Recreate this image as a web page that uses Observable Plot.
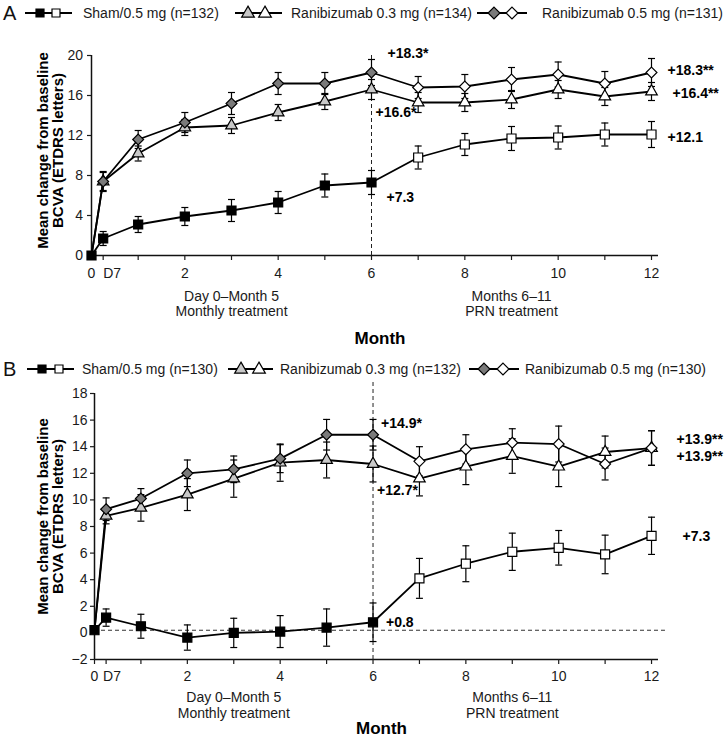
<!DOCTYPE html>
<html>
<head>
<meta charset="utf-8">
<script src="https://cdn.jsdelivr.net/npm/d3@7"></script>
<script src="https://cdn.jsdelivr.net/npm/@observablehq/plot@0.6"></script>
<style>
  body { margin: 0; background: #fff; font-family: "Liberation Sans", Arial, sans-serif; }
  #page { position: relative; width: 724px; height: 740px; overflow: hidden; background: #fff; }
  .abs { position: absolute; left: 0; }
  svg { overflow: visible; }
</style>
</head>
<body>
<div id="page"></div>
<script>
// ---------------- DATA ----------------
const months = [0, 0.25, 1, 2, 3, 4, 5, 6, 7, 8, 9, 10, 11, 12];
const xTickValues = [0, 0.25, 1, 2, 3, 4, 5, 6, 7, 8, 9, 10, 11, 12];
const xTickLabels = ["0", "", "", "2", "", "4", "", "6", "", "8", "", "10", "", "12"];
const d7Label = "D7";
const phaseCenters = [3, 9];
const phaseLabels = ["Day 0–Month 5\nMonthly treatment", "Months 6–11\nPRN treatment"];
const xTitle = "Month";
const yTitle = "Mean change from baseline\nBCVA (ETDRS letters)";

const legendLabelsA = ["Sham/0.5 mg (n=132)", "Ranibizumab 0.3 mg (n=134)", "Ranibizumab 0.5 mg (n=131)"];
const legendLabelsB = ["Sham/0.5 mg (n=130)", "Ranibizumab 0.3 mg (n=132)", "Ranibizumab 0.5 mg (n=130)"];

// Panel A
const shamA    = [0, 1.7, 3.1, 3.9, 4.5, 5.3, 7.0, 7.3, 9.8, 11.1, 11.7, 11.8, 12.1, 12.1];
const shamAErr = [0, 0.7, 0.8, 0.9, 1.1, 1.1, 1.15, 1.2, 1.15, 1.1, 1.2, 1.15, 1.15, 1.3];
const r03A     = [0, 7.4, 10.2, 12.8, 13.0, 14.3, 15.4, 16.6, 15.3, 15.3, 15.6, 16.6, 15.9, 16.4];
const r03AErr  = [0, 0.9, 0.75, 0.8, 0.8, 0.8, 0.8, 1.0, 1.0, 0.9, 0.9, 0.9, 0.9, 0.9];
const r05A     = [0, 7.4, 11.6, 13.3, 15.2, 17.2, 17.2, 18.3, 16.8, 16.9, 17.6, 18.1, 17.2, 18.3];
const r05AErr  = [0, 1.0, 0.9, 1.0, 1.1, 1.1, 1.1, 1.3, 1.1, 1.2, 1.2, 1.25, 1.2, 1.4];
const yTicksA = [0, 4, 8, 12, 16, 20];
const annotTextA = ["+18.3*", "+16.6*", "+7.3", "+18.3**", "+16.4**", "+12.1"];
const annotMonthA = [6, 6, 6, 12, 12, 12];
const annotSeriesA = ["r05", "r03", "sham", "r05", "r03", "sham"];

// Panel B
const shamB    = [0.2, 1.15, 0.5, -0.35, 0.0, 0.1, 0.4, 0.8, 4.1, 5.2, 6.1, 6.4, 5.9, 7.3];
const shamBErr = [0, 0.65, 0.9, 0.95, 1.1, 1.2, 1.4, 1.45, 1.5, 1.35, 1.4, 1.3, 1.45, 1.4];
const r03B     = [0.2, 8.8, 9.4, 10.4, 11.6, 12.8, 13.0, 12.7, 11.6, 12.5, 13.3, 12.5, 13.6, 13.9];
const r03BErr  = [0, 0.6, 1.0, 1.2, 1.4, 1.4, 1.35, 1.35, 1.3, 1.35, 1.3, 1.5, 1.2, 1.3];
const r05B     = [0.2, 9.3, 10.1, 12.0, 12.3, 13.1, 14.9, 14.9, 12.9, 13.8, 14.3, 14.2, 12.7, 13.9];
const r05BErr  = [0, 0.85, 0.75, 1.0, 1.0, 1.05, 1.15, 1.15, 1.1, 1.1, 1.05, 1.35, 1.2, 1.3];
const yTicksB = [-2, 0, 2, 4, 6, 8, 10, 12, 14, 16, 18];
const baselineB = 0.2;
const annotTextB = ["+14.9*", "+12.7*", "+0.8", "+13.9**", "+13.9**", "+7.3"];
const annotMonthB = [6, 6, 6, 12, 12, 12];
const annotSeriesB = ["r05", "r03", "sham", "r05", "r03", "sham"];

// ---------------- STYLE / LAYOUT ----------------
const FONT = '"Liberation Sans", Arial, sans-serif';
const seriesStyle = {
  sham: { symbol: "square",   r: 5.1, fill: "#000000" },
  r03:  { symbol: "triangle", r: 4.3, fill: "#c8c8c8" },
  r05:  { symbol: "diamond2", r: 4.9, fill: "#7a7a7a" }
};
const annotOffsetA = [[16, -19], [4, 23], [15, 15], [16, -2], [21, 2], [16, 3]];
const annotOffsetB = [[8, -11], [4, 27], [13, 0], [25, -9], [25, 8], [31, 1]];

function rows(vals, errs, s) {
  return months.map((m, i) => ({ m, v: vals[i], e: errs[i], s }));
}

function makePanel(cfg) {
  const data = [
    ...rows(cfg.sham, cfg.shamErr, "sham"),
    ...rows(cfg.r03, cfg.r03Err, "r03"),
    ...rows(cfg.r05, cfg.r05Err, "r05")
  ];
  const errData = data.filter(d => d.e > 0);
  const lookup = { sham: cfg.sham, r03: cfg.r03, r05: cfg.r05 };
  const [y0, y1] = cfg.yDomain;

  const dotMarks = ["sham", "r03", "r05"].map(s => {
    const st = seriesStyle[s];
    return Plot.dot(data.filter(d => d.s === s && (s === "sham" || d.m > 0)), {
      x: "m", y: "v", symbol: st.symbol, r: st.r,
      fill: d => (d.m > 6 ? "#ffffff" : st.fill),
      stroke: "#000", strokeWidth: 1.2
    });
  });

  const annotMarks = cfg.annotText.map((t, i) => {
    const m = cfg.annotMonth[i];
    const s = cfg.annotSeries[i];
    const v = lookup[s][months.indexOf(m)];
    return Plot.text([{ m, v, t }], {
      x: "m", y: "v", text: "t", textAnchor: "start",
      dx: cfg.annotOffset[i][0], dy: cfg.annotOffset[i][1],
      fontWeight: "bold", fontSize: 14, fill: "#000"
    });
  });

  const extra = cfg.baseline != null ? [
    Plot.ruleY([cfg.baseline], { x1: 0, x2: 12.3, stroke: "#333", strokeWidth: 1.1, strokeDasharray: "4,3" })
  ] : [];

  return Plot.plot({
    width: 724,
    height: cfg.height,
    marginLeft: cfg.marginLeft,
    marginRight: 66,
    marginTop: cfg.marginTop,
    marginBottom: cfg.marginBottom,
    style: { fontFamily: FONT, fontSize: "14px", color: "#1a1a1a", background: "#fff", overflow: "visible" },
    x: { domain: [0, 12.15] },
    y: { domain: cfg.yDomain },
    color: { type: "identity" },
    marks: [
      ...extra,
      Plot.ruleX([6], { y1: y0, y2: cfg.dashTop, stroke: "#222", strokeWidth: 1, strokeDasharray: "4,3" }),
      Plot.ruleX([0], { y1: y0, y2: y1, stroke: "#111", strokeWidth: 1.5 }),
      Plot.ruleY([y0], { x1: 0, x2: 12.15, stroke: "#111", strokeWidth: 1.5 }),
      Plot.axisY(cfg.yTicks, { tickSize: 4, tickPadding: cfg.yPad, label: null, fontSize: 14, strokeWidth: 1.2 }),
      Plot.axisX(xTickValues, {
        tickSize: 5, tickPadding: cfg.xPad, label: null, fontSize: 14, strokeWidth: 1.2,
        tickFormat: d => xTickLabels[xTickValues.indexOf(d)]
      }),
      Plot.text([d7Label], {
        x: xTickValues[1], text: d => d, frameAnchor: "bottom", lineAnchor: "top",
        textAnchor: "start", dx: cfg.d7dx, dy: 5 + cfg.xPad, fontSize: 14, fill: "#1a1a1a"
      }),
      Plot.text(phaseCenters.map((m, i) => ({ m, t: phaseLabels[i] })), {
        x: "m", text: "t", frameAnchor: "bottom", lineAnchor: "middle",
        dy: cfg.phaseDy, lineHeight: 1.1, fontSize: 14, fill: "#1a1a1a"
      }),
      Plot.text([xTitle], {
        text: d => d, frameAnchor: "bottom", lineAnchor: "middle",
        dx: 5, dy: cfg.titleDy, fontSize: 17, fontWeight: "bold", fill: "#000"
      }),
      Plot.text([yTitle], {
        text: d => d, frameAnchor: "left", rotate: -90, lineAnchor: "middle", textAnchor: "middle",
        dx: 50.5 - cfg.marginLeft, dy: cfg.yTitleDy, lineHeight: 1.0,
        fontSize: 15, fontWeight: "bold", fill: "#000"
      }),
      Plot.line(data, { x: "m", y: "v", z: "s", stroke: "#000", strokeWidth: 1.8 }),
      Plot.ruleX(errData, { x: "m", y1: d => d.v - d.e, y2: d => d.v + d.e, stroke: "#000", strokeWidth: 1.2 }),
      Plot.link(errData, { x1: d => d.m - 0.075, x2: d => d.m + 0.075, y1: d => d.v + d.e, y2: d => d.v + d.e, stroke: "#000", strokeWidth: 1.2 }),
      Plot.link(errData, { x1: d => d.m - 0.075, x2: d => d.m + 0.075, y1: d => d.v - d.e, y2: d => d.v - d.e, stroke: "#000", strokeWidth: 1.2 }),
      ...dotMarks,
      ...annotMarks
    ]
  });
}

function makeLegend(letter, labels, lay) {
  const svg = d3.create("svg").attr("width", 724).attr("height", lay.h)
    .style("font-family", FONT);
  svg.append("text").attr("x", 3).attr("y", lay.cy).attr("dy", "0.36em")
    .attr("font-size", 20).attr("fill", "#111").text(letter);
  const kinds = ["sham", "r03", "r05"];
  const symSize = { sham: 64, r03: 70, r05: 90 };
  lay.items.forEach((it, i) => {
    const k = kinds[i];
    const st = seriesStyle[k];
    svg.append("line").attr("x1", it.x0).attr("x2", it.x1).attr("y1", lay.cy).attr("y2", lay.cy)
      .attr("stroke", "#000").attr("stroke-width", 1.8);
    const sym = { square: d3.symbolSquare, triangle: d3.symbolTriangle, diamond2: d3.symbolDiamond2 }[st.symbol];
    const path = d3.symbol(sym, symSize[k])();
    const yoff = k === "r03" ? 0.5 : 0;
    [[it.c1, st.fill], [it.c2, "#fff"]].forEach(([cx, f]) => {
      svg.append("path").attr("d", path).attr("transform", `translate(${cx},${lay.cy + yoff})`)
        .attr("fill", f).attr("stroke", "#000").attr("stroke-width", 1.2);
    });
    svg.append("text").attr("x", it.tx).attr("y", lay.cy).attr("dy", "0.35em")
      .attr("font-size", 14).attr("fill", "#1a1a1a").text(labels[i]);
  });
  return svg.node();
}

const page = document.getElementById("page");
function place(node, top) {
  const wrap = document.createElement("div");
  wrap.className = "abs";
  wrap.style.top = top + "px";
  wrap.appendChild(node);
  page.appendChild(wrap);
}

place(makeLegend("A", legendLabelsA, {
  h: 30, cy: 13,
  items: [
    { x0: 25, x1: 72, c1: 40, c2: 56, tx: 83 },
    { x0: 235, x1: 282, c1: 248, c2: 265, tx: 291 },
    { x0: 477, x1: 527, c1: 494, c2: 512, tx: 542 }
  ]
}), 0);

place(makePanel({
  sham: shamA, shamErr: shamAErr, r03: r03A, r03Err: r03AErr, r05: r05A, r05Err: r05AErr,
  yDomain: [0, 20], yTicks: yTicksA, dashTop: 20,
  height: 320, marginTop: 25, marginBottom: 95, marginLeft: 91,
  yPad: 4.5, xPad: 8, d7dx: 0, phaseDy: 48, titleDy: 83, yTitleDy: -5,
  annotText: annotTextA, annotMonth: annotMonthA, annotSeries: annotSeriesA, annotOffset: annotOffsetA,
  baseline: null
}), 30);

place(makeLegend("B", legendLabelsB, {
  h: 23, cy: 14,
  items: [
    { x0: 27, x1: 74, c1: 42, c2: 59, tx: 82 },
    { x0: 228, x1: 273, c1: 241, c2: 259, tx: 280 },
    { x0: 469, x1: 519, c1: 484, c2: 503, tx: 525 }
  ]
}), 355);

place(makePanel({
  sham: shamB, shamErr: shamBErr, r03: r03B, r03Err: r03BErr, r05: r05B, r05Err: r05BErr,
  yDomain: [-2, 18], yTicks: yTicksB, dashTop: 19,
  height: 362, marginTop: 15, marginBottom: 81, marginLeft: 94,
  yPad: 3, xPad: 7, d7dx: -3, phaseDy: 45.5, titleDy: 69, yTitleDy: -10,
  annotText: annotTextB, annotMonth: annotMonthB, annotSeries: annotSeriesB, annotOffset: annotOffsetB,
  baseline: baselineB
}), 378);
</script>
</body>
</html>
